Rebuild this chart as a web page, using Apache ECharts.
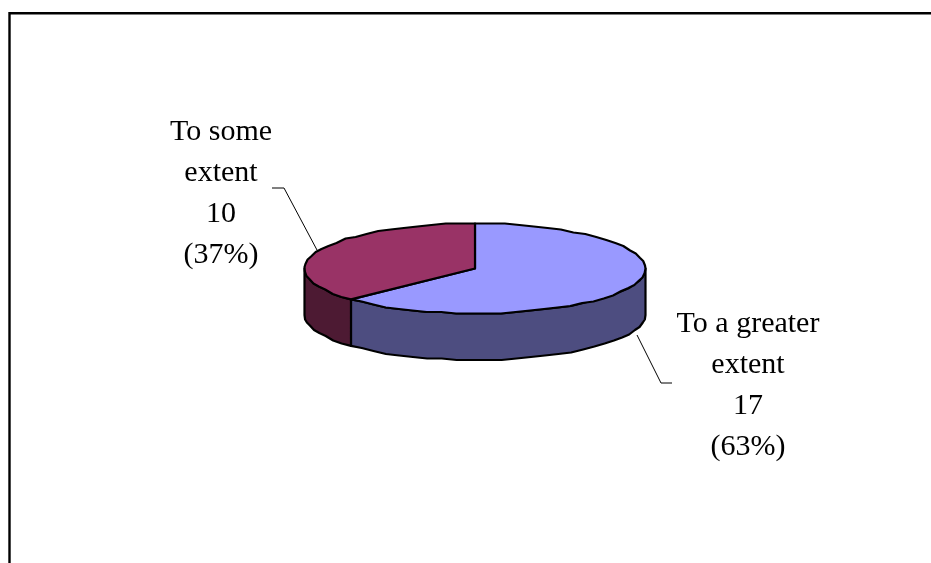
<!DOCTYPE html>
<html><head><meta charset="utf-8">
<style>html,body{margin:0;padding:0;background:#fff}#c{width:931px;height:563px}</style>
<script src="https://cdn.jsdelivr.net/npm/echarts@6/dist/echarts.min.js"></script>
</head><body><div id="c"></div>
<script>
const categories = ['To a greater\nextent', 'To some\nextent'];
const values = [17, 10];
const percents = [63, 37];
const topColors = ['#9999FF', '#993366'];
const sideColors = ['#4D4D80', '#4D1A33'];

const CX = 475, CY = 268.5, RX = 170.5, RY = 45, DEPTH = 46.5, FACET = 5, SNAP = 1.5;
const FONT = '"Liberation Serif","Times New Roman",serif';
const labelPos = [[748, 385.5], [221, 193.5]];
const leaders = [[[637, 335], [661, 383], [672, 383]], [[317, 250], [284, 188], [272, 188]]];
const total = values.reduce((a, b) => a + b, 0);

function pt(deg, dy, exact) {
  const r = deg * Math.PI / 180;
  let x = CX + RX * Math.sin(r), y = CY - RY * Math.cos(r);
  if (!exact) { y = CY + Math.round((y - CY) / SNAP) * SNAP; }
  return [x, y + (dy || 0)];
}
function arc(a0, a1, dy) {
  const out = [pt(a0, dy, true)];
  const n = Math.max(1, Math.round((a1 - a0) / FACET));
  for (let i = 1; i <= n; i++) out.push(pt(a0 + (a1 - a0) * i / n, dy, i === n));
  return out;
}
const line = { stroke: '#000', lineWidth: 2.2, lineJoin: 'round' };

function renderItem(params, api) {
  const i = params.dataIndex;
  let before = 0;
  for (let k = 0; k < i; k++) before += values[k];
  const a0 = before / total * 360;
  const a1 = (before + api.value(1)) / total * 360;
  const children = [];
  const w0 = Math.max(a0, 90), w1 = Math.min(a1, 270);
  if (w1 > w0) {
    const upper = arc(w0, w1, 0), lower = arc(w0, w1, DEPTH).reverse();
    children.push({ type: 'polygon', z2: 1,
      shape: { points: upper.concat(lower) },
      style: Object.assign({ fill: sideColors[i] }, line) });
  }
  children.push({ type: 'polygon', z2: 3,
    shape: { points: [[CX, CY]].concat(arc(a0, a1, 0)) },
    style: Object.assign({ fill: topColors[i] }, line) });
  children.push({ type: 'polyline', z2: 0,
    shape: { points: leaders[i] },
    style: { stroke: '#000', lineWidth: 1, fill: null } });
  children.push({ type: 'text', z2: 4,
    x: labelPos[i][0], y: labelPos[i][1],
    style: {
      text: categories[i] + '\n' + api.value(1) + '\n(' + percents[i] + '%)',
      font: '30px ' + FONT, lineHeight: 41, fill: '#000',
      align: 'center', verticalAlign: 'middle'
    } });
  return { type: 'group', children };
}

const chart = echarts.init(document.getElementById('c'), null, { renderer: 'canvas' });
chart.setOption({
  animation: false,
  backgroundColor: '#fff',
  graphic: [{ type: 'polyline', silent: true,
    shape: { points: [[9.5, 575], [9.5, 13.2], [945, 13.2]] },
    style: { fill: null, stroke: '#000', lineWidth: 2.4 } }],
  series: [{
    type: 'custom', coordinateSystem: 'none', renderItem,
    data: categories.map((c, i) => [c, values[i]]),
    encode: { value: 1 }
  }]
});
</script></body></html>
